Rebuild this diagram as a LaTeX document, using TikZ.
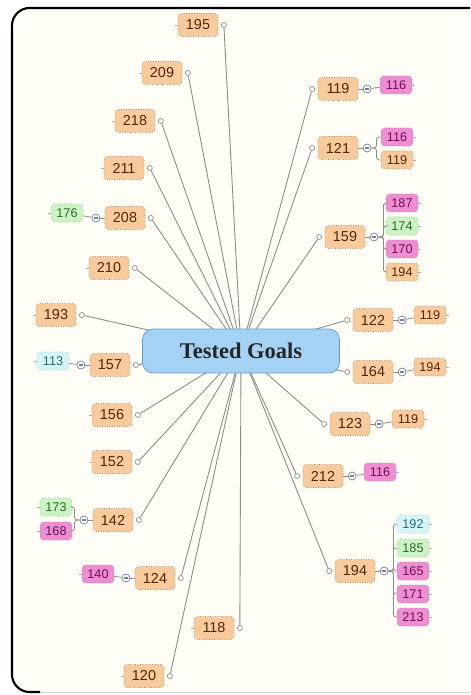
\documentclass[tikz,border=0pt]{standalone}
\usepackage{fontspec}
\setsansfont{Liberation Sans}
\newfontfamily\hubfont{Liberation Serif}
\usepackage{xcolor}
\usepackage{tikz}
\usetikzlibrary{positioning}

\definecolor{paper}{HTML}{FFFEF6}
\definecolor{goalfill}{HTML}{F9CA9B}
\definecolor{goalline}{HTML}{A07F5E}
\definecolor{goaltext}{HTML}{4E2608}
\definecolor{pinkfill}{HTML}{EE8DCF}
\definecolor{pinktext}{HTML}{6E0F5A}
\definecolor{greenfill}{HTML}{CBF3C3}
\definecolor{greentext}{HTML}{2C6A2C}
\definecolor{cyanfill}{HTML}{D5F5F7}
\definecolor{cyantext}{HTML}{256A7C}
\definecolor{hubfill}{HTML}{A3D2F4}
\definecolor{hubline}{HTML}{5E9CD2}
\definecolor{spokecol}{HTML}{8A8A8A}
\definecolor{foldline}{HTML}{6F7F95}

\begin{document}
\begin{tikzpicture}[x=0.02cm, y=-0.02cm,
    goal/.style={draw=goalline, densely dotted, fill=goalfill, text=goaltext,
        rounded corners=2pt, minimum width=0.8cm, minimum height=0.46cm,
        inner sep=0pt, font=\sffamily\fontsize{8.2}{9}\selectfont},
    leaf/.style={goal, minimum width=0.64cm, minimum height=0.36cm,
        font=\sffamily\fontsize{7.2}{8}\selectfont},
    pinkleaf/.style={leaf, fill=pinkfill, text=pinktext, draw=pinktext!50},
    greenleaf/.style={leaf, fill=greenfill, text=greentext, draw=greentext!50},
    cyanleaf/.style={leaf, fill=cyanfill, text=cyantext, draw=cyantext!50},
    knob/.style={circle, draw=spokecol, fill=white, inner sep=0pt, minimum size=0.1cm},
    fold/.style={circle, draw=foldline, fill=white, inner sep=0pt, minimum size=0.16cm,
        path picture={\draw[foldline, line width=0.6pt]
            ([xshift=1.2pt]path picture bounding box.west) --
            ([xshift=-1.2pt]path picture bounding box.east);}},
    spoke/.style={draw=spokecol, line width=0.5pt},
    twig/.style={draw=spokecol, line width=0.45pt},
    tick/.style={draw=spokecol!70, solid, line width=0.4pt},
    tickw/.style={append after command={(\tikzlastnode.west) edge[tick] ++(-3,0)}},
    ticke/.style={append after command={(\tikzlastnode.east) edge[tick] ++(3,0)}},
    hub/.style={draw=hubline, fill=hubfill, rounded corners=6pt,
        minimum width=3.94cm, minimum height=0.88cm, text=black!85,
        font=\hubfont\bfseries\fontsize{12.8}{14}\selectfont}]

    % Paper and frame
    \useasboundingbox (0,0) rectangle (470,695);
    \clip (0,0) rectangle (470,695);
    \fill[white] (0,0) rectangle (470,695);
    \fill[paper, rounded corners=10] (12,8) rectangle (500,692);
    \draw[gray!35, line width=0.5pt] (40,692) -- (500,692);
    \draw[black, line width=1.2pt, rounded corners=10] (500,8) -- (12,8) -- (12,692) -- (40,692);

    % Left goals
    \node[goal, tickw] (g195) at (198,25) {195};
    \node[knob, right=1.5pt of g195] (k195) {};
    \node[goal, tickw] (g209) at (162,73) {209};
    \node[knob, right=1.5pt of g209] (k209) {};
    \node[goal, tickw] (g218) at (135,121) {218};
    \node[knob, right=1.5pt of g218] (k218) {};
    \node[goal, tickw] (g211) at (124,168) {211};
    \node[knob, right=1.5pt of g211] (k211) {};
    \node[goal] (g208) at (125,218) {208};
    \node[knob, right=1.5pt of g208] (k208) {};
    \node[goal, tickw] (g210) at (109,268) {210};
    \node[knob, right=1.5pt of g210] (k210) {};
    \node[goal, tickw] (g193) at (56,315) {193};
    \node[knob, right=1.5pt of g193] (k193) {};
    \node[goal] (g157) at (110,365) {157};
    \node[knob, right=1.5pt of g157] (k157) {};
    \node[goal, tickw] (g156) at (112,415) {156};
    \node[knob, right=1.5pt of g156] (k156) {};
    \node[goal, tickw] (g152) at (112,462) {152};
    \node[knob, right=1.5pt of g152] (k152) {};
    \node[goal] (g142) at (113,520) {142};
    \node[knob, right=1.5pt of g142] (k142) {};
    \node[goal] (g124) at (155,578) {124};
    \node[knob, right=1.5pt of g124] (k124) {};
    \node[goal, tickw] (g118) at (214,628) {118};
    \node[knob, right=1.5pt of g118] (k118) {};
    \node[goal, tickw] (g120) at (144,676) {120};
    \node[knob, right=1.5pt of g120] (k120) {};

    % Left sub-goals
    \node[fold, left=2.5pt of g208] (f208) {};
    \node[greenleaf, tickw] (l208a) at (67,213) {176};
    \draw[twig] (g208) -- (f208);
    \draw[twig] (f208) -- (l208a);

    \node[fold, left=2.5pt of g157] (f157) {};
    \node[cyanleaf, tickw] (l157a) at (53,361) {113};
    \draw[twig] (g157) -- (f157);
    \draw[twig] (f157) -- (l157a);

    \node[fold, left=2.5pt of g142] (f142) {};
    \node[greenleaf, tickw] (l142a) at (56,507) {173};
    \node[pinkleaf, tickw] (l142b) at (56,531) {168};
    \draw[twig] (g142) -- (f142);
    \draw[twig, rounded corners=1.5pt] (f142.west) -- ++(-5,0) |- (l142a);
    \draw[twig, rounded corners=1.5pt] (f142.west) -- ++(-5,0) |- (l142b);

    \node[fold, left=2.5pt of g124] (f124) {};
    \node[pinkleaf, tickw] (l124a) at (98,574) {140};
    \draw[twig] (g124) -- (f124);
    \draw[twig] (f124) -- (l124a);

    % Right goals
    \node[goal] (g119) at (338,89) {119};
    \node[knob, left=1.5pt of g119] (k119) {};
    \node[goal] (g121) at (338,148) {121};
    \node[knob, left=1.5pt of g121] (k121) {};
    \node[goal] (g159) at (345,237) {159};
    \node[knob, left=1.5pt of g159] (k159) {};
    \node[goal] (g122) at (373,320) {122};
    \node[knob, left=1.5pt of g122] (k122) {};
    \node[goal] (g164) at (373,372) {164};
    \node[knob, left=1.5pt of g164] (k164) {};
    \node[goal] (g123) at (350,424) {123};
    \node[knob, left=1.5pt of g123] (k123) {};
    \node[goal] (g212) at (323,476) {212};
    \node[knob, left=1.5pt of g212] (k212) {};
    \node[goal] (g194) at (355,571) {194};
    \node[knob, left=1.5pt of g194] (k194) {};

    % Right sub-goals
    \node[fold, right=2.5pt of g119] (f119) {};
    \node[pinkleaf, ticke] (l119a) at (396,85) {116};
    \draw[twig] (g119) -- (f119);
    \draw[twig] (f119) -- (l119a);

    \node[fold, right=2.5pt of g121] (f121) {};
    \node[pinkleaf, ticke] (l121a) at (397,137) {116};
    \node[leaf, ticke] (l121b) at (397,160) {119};
    \draw[twig] (g121) -- (f121);
    \draw[twig, rounded corners=1.5pt] (f121.east) -- ++(5,0) |- (l121a);
    \draw[twig, rounded corners=1.5pt] (f121.east) -- ++(5,0) |- (l121b);

    \node[fold, right=2.5pt of g159] (f159) {};
    \node[pinkleaf, ticke] (l159a) at (402,203) {187};
    \node[greenleaf, ticke] (l159b) at (402,226) {174};
    \node[pinkleaf, ticke] (l159c) at (402,249) {170};
    \node[leaf, ticke] (l159d) at (402,272) {194};
    \draw[twig] (g159) -- (f159);
    \draw[twig, rounded corners=1.5pt] (f159.east) -- ++(5,0) |- (l159a);
    \draw[twig, rounded corners=1.5pt] (f159.east) -- ++(5,0) |- (l159b);
    \draw[twig, rounded corners=1.5pt] (f159.east) -- ++(5,0) |- (l159c);
    \draw[twig, rounded corners=1.5pt] (f159.east) -- ++(5,0) |- (l159d);

    \node[fold, right=2.5pt of g122] (f122) {};
    \node[leaf, ticke] (l122a) at (430,315) {119};
    \draw[twig] (g122) -- (f122);
    \draw[twig] (f122) -- (l122a);

    \node[fold, right=2.5pt of g164] (f164) {};
    \node[leaf, ticke] (l164a) at (430,367) {194};
    \draw[twig] (g164) -- (f164);
    \draw[twig] (f164) -- (l164a);

    \node[fold, right=2.5pt of g123] (f123) {};
    \node[leaf, ticke] (l123a) at (408,419) {119};
    \draw[twig] (g123) -- (f123);
    \draw[twig] (f123) -- (l123a);

    \node[fold, right=2.5pt of g212] (f212) {};
    \node[pinkleaf, ticke] (l212a) at (380,472) {116};
    \draw[twig] (g212) -- (f212);
    \draw[twig] (f212) -- (l212a);

    \node[fold, right=2.5pt of g194] (f194) {};
    \node[cyanleaf, ticke] (l194a) at (413,524) {192};
    \node[greenleaf, ticke] (l194b) at (413,548) {185};
    \node[pinkleaf, ticke] (l194c) at (413,571) {165};
    \node[pinkleaf, ticke] (l194d) at (413,594) {171};
    \node[pinkleaf, ticke] (l194e) at (413,617) {213};
    \draw[twig] (g194) -- (f194);
    \draw[twig, rounded corners=1.5pt] (f194.east) -- ++(5,0) |- (l194a);
    \draw[twig, rounded corners=1.5pt] (f194.east) -- ++(5,0) |- (l194b);
    \draw[twig, rounded corners=1.5pt] (f194.east) -- ++(5,0) |- (l194c);
    \draw[twig, rounded corners=1.5pt] (f194.east) -- ++(5,0) |- (l194d);
    \draw[twig, rounded corners=1.5pt] (f194.east) -- ++(5,0) |- (l194e);

    % Spokes from the hub
    \coordinate (hc) at (241,351);
    \draw[spoke] (hc) -- (k195);
    \draw[spoke] (hc) -- (k209);
    \draw[spoke] (hc) -- (k218);
    \draw[spoke] (hc) -- (k211);
    \draw[spoke] (hc) -- (k208);
    \draw[spoke] (hc) -- (k210);
    \draw[spoke] (hc) -- (k193);
    \draw[spoke] (hc) -- (k157);
    \draw[spoke] (hc) -- (k156);
    \draw[spoke] (hc) -- (k152);
    \draw[spoke] (hc) -- (k142);
    \draw[spoke] (hc) -- (k124);
    \draw[spoke] (hc) -- (k118);
    \draw[spoke] (hc) -- (k120);
    \draw[spoke] (hc) -- (k119);
    \draw[spoke] (hc) -- (k121);
    \draw[spoke] (hc) -- (k159);
    \draw[spoke] (hc) -- (k122);
    \draw[spoke] (hc) -- (k164);
    \draw[spoke] (hc) -- (k123);
    \draw[spoke] (hc) -- (k212);
    \draw[spoke] (hc) -- (k194);

    % Hub
    \node[hub] (hub) at (hc) {Tested Goals};
\end{tikzpicture}
\end{document}
